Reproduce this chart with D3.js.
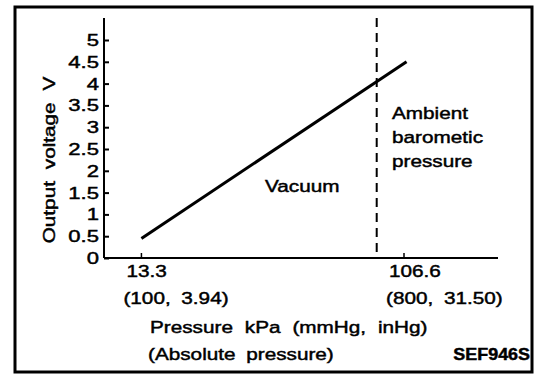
<!DOCTYPE html>
<html>
<head>
<meta charset="utf-8">
<script src="https://cdn.jsdelivr.net/npm/d3@7"></script>
<style>
  body { margin: 0; background: #fff; }
  text { font-family: "Liberation Sans", Arial, sans-serif; fill: #000; stroke: #000; stroke-width: 0.45px; }
</style>
</head>
<body>
<div id="chart"></div>
<script>
// sensor output line, pressure in kPa vs output voltage
var pressureKpa = [13.3, 107.5];
var outputVolt = [0.45, 4.5];

// ambient barometric pressure marker
var ambientKpa = 96.9;

var yTicks = [0, 0.5, 1, 1.5, 2, 2.5, 3, 3.5, 4, 4.5, 5];
var yTickLabels = ["0", "0.5", "1", "1.5", "2", "2.5", "3", "3.5", "4", "4.5", "5"];
var xTicks = [13.3, 106.6];
var xTickLabels = ["13.3", "106.6"];
var xTickSubLabels = ["(100, 3.94)", "(800, 31.50)"];

var width = 560, height = 388;
var stretch = 1.22; // scanned lettering is wider than Arial

var svg = d3.select("#chart").append("svg")
    .attr("width", width)
    .attr("height", height);

// frame round the whole figure
svg.append("rect")
    .attr("x", 15).attr("y", 7)
    .attr("width", 517).attr("height", 365)
    .attr("fill", "none")
    .attr("stroke", "#000")
    .attr("stroke-width", 3);

var x = d3.scaleLinear().domain([0, 140]).range([104, 498]);
var y = d3.scaleLinear().domain([0, 5]).range([258, 40]);

// helper for stretched text
function label(txt, px, py, anchor, opts) {
  opts = opts || {};
  var s = opts.stretch || stretch;
  return svg.append("text")
      .attr("transform", "translate(" + px + "," + py + ") scale(" + s + ",1)")
      .attr("text-anchor", anchor || "start")
      .style("font-size", (opts.size || 17) + "px")
      .style("font-weight", opts.weight || "normal")
      .style("word-spacing", (opts.ws || 0) + "px")
      .text(txt);
}

// y axis: ticks point inward
var yAxis = svg.append("g")
    .attr("transform", "translate(" + x(0) + ",0)")
    .call(d3.axisLeft(y).tickValues(yTicks).tickSize(-5).tickFormat(function(d, i){ return yTickLabels[i]; }));
yAxis.select(".domain").remove();
yAxis.selectAll(".tick line").attr("stroke", "#000").attr("stroke-width", 2);
yAxis.selectAll(".tick text").remove();
yTicks.forEach(function(v, i){
  label(yTickLabels[i], x(0) - 5, y(v) + 6, "end", {stretch: 1.3});
});

// axis lines
svg.append("line")
    .attr("x1", x(0)).attr("x2", x(0))
    .attr("y1", 18).attr("y2", y(0))
    .attr("stroke", "#000").attr("stroke-width", 2);
svg.append("line")
    .attr("x1", x(0)).attr("x2", x(140))
    .attr("y1", y(0)).attr("y2", y(0))
    .attr("stroke", "#000").attr("stroke-width", 2);

// x ticks
svg.selectAll(".xtick")
    .data(xTicks)
    .enter().append("line")
    .attr("class", "xtick")
    .attr("x1", function(d){ return x(d); })
    .attr("x2", function(d){ return x(d); })
    .attr("y1", y(0)).attr("y2", y(0) - 5)
    .attr("stroke", "#000").attr("stroke-width", 1.5);

xTicks.forEach(function(v, i){
  label(xTickLabels[i], x(v) - 15, 277, "start");
  label(xTickSubLabels[i], x(v) - 18, 304, "start", {ws: 4});
});

// ambient pressure dashed line
svg.append("line")
    .attr("x1", x(ambientKpa)).attr("x2", x(ambientKpa))
    .attr("y1", 18).attr("y2", y(0))
    .attr("stroke", "#000")
    .attr("stroke-width", 2)
    .attr("stroke-dasharray", "9,6");

// output line
var line = d3.line()
    .x(function(d){ return x(d[0]); })
    .y(function(d){ return y(d[1]); });
svg.append("path")
    .datum(d3.zip(pressureKpa, outputVolt))
    .attr("d", line)
    .attr("fill", "none")
    .attr("stroke", "#000")
    .attr("stroke-width", 3);

// annotations
label("Vacuum", 265, 192, "start");
label("Ambient", 392, 119, "start");
label("barometic", 392, 143, "start");
label("pressure", 392, 167, "start");

// axis titles
svg.append("text")
    .attr("transform", "translate(55,160) rotate(-90) scale(1.22,1)")
    .attr("text-anchor", "middle")
    .style("font-size", "17px")
    .style("word-spacing", "5px")
    .text("Output voltage V");
label("Pressure kPa (mmHg, inHg)", 150, 333, "start", {ws: 5});
label("(Absolute pressure)", 148, 360, "start", {ws: 4});
label("SEF946S", 530, 360, "end", {weight: "bold", size: 16, stretch: 1.12});
</script>
</body>
</html>
